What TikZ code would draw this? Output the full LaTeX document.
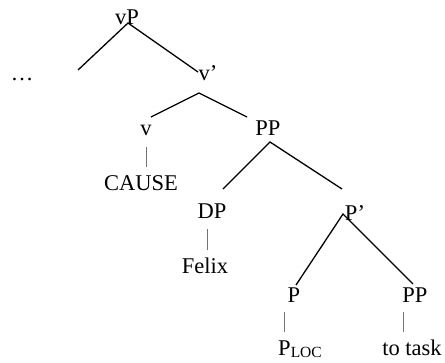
\documentclass[tikz,border=0pt]{standalone}
\usepackage{fontspec}
\setmainfont{Liberation Serif}
\begin{document}
\begin{tikzpicture}[x=1pt,y=-1pt,
  lbl/.style={anchor=base,inner sep=0pt,font=\fontsize{22.5}{27}\selectfont},
  branch/.style={line width=1.3pt,black},
  stem/.style={line width=0.9pt,black!55}]
\useasboundingbox (0,0) rectangle (445,362);
% labels
\node[lbl] (vP) at (127,24) {vP};
\node[lbl] (dots) at (22,80) {…};
\node[lbl] (vbar) at (208,80) {v’};
\node[lbl] (v) at (146,135) {v};
\node[lbl] (cause) at (141,190) {CAUSE};
\node[lbl] (PPa) at (268,135) {PP};
\node[lbl] (DP) at (212,218) {DP};
\node[lbl] (felix) at (205,273) {Felix};
\node[lbl] (Pbar) at (355,220) {P’};
\node[lbl] (P) at (294,302) {P};
\node[lbl] (PPb) at (415,302) {PP};
\node[lbl] (ploc) at (300,355) {P\raisebox{-0.13em}{\fontsize{15.5}{16}\selectfont LOC}};
\node[lbl] (totask) at (412,355) {to task};
% branch points
\coordinate (vPtop) at (128,23);
\coordinate (vPleft) at (78,70);
\coordinate (vPright) at (198,72);
\coordinate (vbartop) at (199,93);
\coordinate (vbarleft) at (151,117);
\coordinate (vbarright) at (247,117);
\coordinate (PPtop) at (270,142);
\coordinate (PPleft) at (223,189);
\coordinate (PPright) at (342,189);
\coordinate (Pbartop) at (343,214);
\coordinate (Pbarleft) at (296,285);
\coordinate (Pbarright) at (413,284);
\coordinate (vs1) at (146,147);
\coordinate (vs2) at (146,167);
\coordinate (ds1) at (207,229);
\coordinate (ds2) at (207,250);
\coordinate (ps1) at (284,312);
\coordinate (ps2) at (284,332);
\coordinate (pps1) at (403,312);
\coordinate (pps2) at (403,332);
% branches
\draw[branch] (vPleft) -- (vPtop) -- (vPright);
\draw[branch] (vbarleft) -- (vbartop) -- (vbarright);
\draw[branch] (PPleft) -- (PPtop) -- (PPright);
\draw[branch] (Pbarleft) -- (Pbartop) -- (Pbarright);
% stems
\draw[stem] (vs1) -- (vs2);
\draw[stem] (ds1) -- (ds2);
\draw[stem] (ps1) -- (ps2);
\draw[stem] (pps1) -- (pps2);
\end{tikzpicture}
\end{document}
